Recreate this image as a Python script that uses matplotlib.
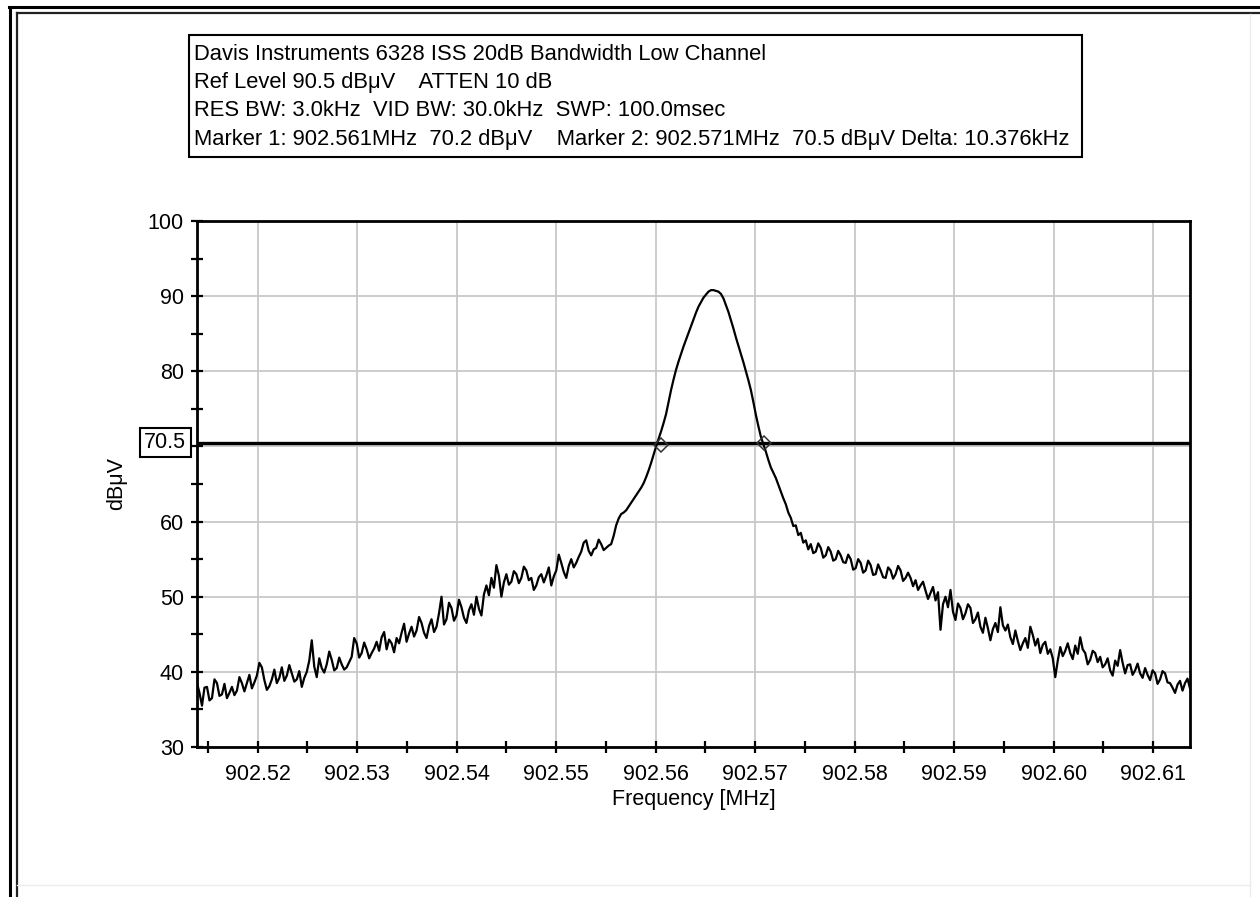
import numpy as np
import matplotlib.pyplot as plt
from matplotlib.lines import Line2D
from matplotlib.patches import Rectangle
from matplotlib.ticker import MultipleLocator, FuncFormatter

plt.rcParams['font.family'] = ['Liberation Sans', 'DejaVu Sans']

# sweep span (MHz), points evenly spaced across it
f_start = 902.5139
f_stop = 902.6137

level = [
    38.5, 37.2, 35.5, 37.9, 38.0, 36.2, 36.5, 39.0, 38.5, 36.8,
    37.0, 38.4, 36.5, 37.2, 38.0, 36.9, 37.5, 39.3, 38.5, 37.4,
    38.5, 39.6, 37.8, 38.6, 39.5, 41.2, 40.6, 38.9, 37.6, 38.1,
    39.0, 40.3, 38.5, 39.2, 40.6, 38.8, 39.5, 40.9, 39.8, 38.7,
    39.0, 40.1, 38.0, 39.2, 40.0, 41.5, 44.2, 40.7, 39.3, 41.8,
    40.5, 39.9, 41.0, 42.7, 41.6, 40.2, 40.5, 41.9, 41.0, 40.3,
    40.6, 41.3, 42.0, 44.5, 43.8, 41.9, 42.5, 43.9, 43.0, 41.8,
    42.5, 43.1, 44.0, 42.8, 44.6, 45.3, 43.0, 44.3, 43.8, 42.6,
    44.5, 43.8, 45.2, 46.4, 44.0, 45.1, 46.0, 44.7, 45.5, 47.3,
    46.5, 45.2, 44.5, 46.1, 47.0, 45.3, 46.0, 47.8, 50.0, 46.3,
    47.0, 49.2, 48.5, 46.8, 47.5, 49.6, 48.6, 47.2, 46.5, 48.2,
    49.0, 47.6, 50.0, 48.4, 47.5, 50.3, 51.5, 50.2, 52.5, 51.2,
    54.2, 52.8, 50.0, 51.9, 53.0, 51.6, 52.0, 53.4, 53.0, 51.8,
    52.5, 54.0, 53.5, 52.2, 52.5, 50.9, 51.5, 52.6, 53.0, 51.9,
    52.8, 53.9, 51.5, 52.7, 53.5, 55.6, 54.5, 53.3, 52.5, 54.1,
    55.0, 53.9, 54.5, 55.3, 56.0, 57.2, 57.5, 56.1, 55.5, 56.3,
    56.5, 57.6, 57.0, 56.2, 56.5, 56.8, 57.0, 58.1, 59.5, 60.4,
    61.0, 61.2, 61.5, 62.0, 62.5, 63.0, 63.5, 64.0, 64.5, 65.1,
    65.9, 66.8, 67.8, 68.9, 70.0, 71.0, 72.0, 73.1, 74.3, 75.9,
    77.5, 78.9, 80.2, 81.3, 82.3, 83.3, 84.2, 85.1, 86.0, 86.9,
    87.8, 88.6, 89.2, 89.8, 90.2, 90.6, 90.8, 90.8, 90.7, 90.6,
    90.3, 89.7, 88.8, 87.9, 86.8, 85.7, 84.5, 83.4, 82.3, 81.2,
    80.0, 78.8, 77.5, 75.9, 74.2, 72.7, 71.3, 70.3, 69.3, 68.2,
    67.2, 66.5, 65.8, 64.9, 64.0, 63.1, 62.3, 61.2, 60.5, 59.4,
    59.5, 58.2, 58.5, 57.2, 57.5, 56.3, 57.0, 55.8, 56.0, 57.1,
    56.5, 55.2, 55.5, 56.6, 56.0, 54.8, 55.0, 56.1, 55.5, 54.6,
    54.5, 55.6, 55.0, 53.6, 53.8, 55.0, 54.5, 53.2, 53.5, 54.8,
    54.2, 52.9, 53.0, 54.3, 53.5, 52.6, 52.5, 53.9, 53.5, 52.4,
    53.0, 54.1, 53.5, 52.1, 52.5, 53.2, 52.5, 51.4, 52.2, 50.9,
    51.5, 52.0, 50.8, 49.7, 50.5, 51.3, 49.5, 50.6, 45.6, 49.0,
    50.0, 48.6, 50.9, 48.0, 46.9, 49.1, 48.5, 47.0, 47.8, 49.0,
    48.5, 46.5, 47.0, 47.9, 46.0, 45.2, 47.2, 45.8, 44.2, 45.7,
    46.5, 45.3, 48.6, 46.2, 45.5, 46.3, 44.6, 43.7, 45.5, 44.1,
    42.9, 43.8, 44.5, 43.2, 46.0, 44.9, 43.5, 44.4, 42.5, 43.6,
    44.0, 42.4, 43.0, 41.8, 39.3, 41.5, 43.3, 42.1, 42.8, 43.8,
    42.5, 41.7, 43.5, 42.4, 44.6, 43.0, 42.5, 41.0, 41.6, 42.8,
    42.5, 41.3, 42.0, 40.6, 41.0, 41.8, 40.2, 39.5, 41.5, 40.8,
    42.9, 41.2, 39.8, 40.9, 41.0, 39.6, 40.2, 41.1, 39.8, 39.2,
    40.5, 39.6, 38.9, 40.2, 39.8, 38.4, 39.0, 40.1, 39.8, 38.6,
    38.5, 37.9, 37.2, 38.3, 38.8, 37.5, 38.5, 39.1, 37.8,
]
freq = np.linspace(f_start, f_stop, len(level))

ref_line = 70.5
marker_freq = [902.5605, 902.5709]
marker_level = [70.2, 70.5]

title_lines = [
    "Davis Instruments 6328 ISS 20dB Bandwidth Low Channel",
    "Ref Level 90.5 dB\u03bcV    ATTEN 10 dB",
    "RES BW: 3.0kHz  VID BW: 30.0kHz  SWP: 100.0msec",
    "Marker 1: 902.561MHz  70.2 dB\u03bcV    Marker 2: 902.571MHz  70.5 dB\u03bcV Delta: 10.376kHz",
]

fig = plt.figure(figsize=(12.6, 8.97), dpi=100)
W, H = 1260.0, 897.0

def fx(px):
    return px / W

def fy(py):
    return 1 - py / H

# frame lines of the screen capture (top / left only)
fig.add_artist(Line2D([fx(9), 1], [fy(7), fy(7)], color='black', lw=2.2))
fig.add_artist(Line2D([fx(10), fx(10)], [fy(7), 0], color='black', lw=2.2))
fig.add_artist(Line2D([fx(17), 1], [fy(13), fy(13)], color='#222222', lw=1.6))
fig.add_artist(Line2D([fx(17), fx(17)], [fy(13), 0], color='#222222', lw=1.6))
fig.add_artist(Line2D([fx(1250), fx(1250)], [fy(14), 0], color='#ececec', lw=1))
fig.add_artist(Line2D([fx(17), fx(1250)], [fy(885), fy(885)], color='#ececec', lw=1))

# header box
fig.add_artist(Rectangle((fx(189), fy(157)), fx(1082) - fx(189), fy(35) - fy(157),
                         transform=fig.transFigure, fill=False, ec='black', lw=1.5))
for i, line in enumerate(title_lines):
    fig.text(fx(194), fy(54 + i * 28.5), line, fontsize=15.8, va='center', ha='left')

ax = fig.add_axes([fx(197), fy(747), fx(1190) - fx(197), fy(221) - fy(747)])

ax.plot(freq, level, color='black', lw=1.6)
ax.axhline(ref_line, color='black', lw=2.4)
ax.plot(marker_freq, marker_level, ls='none', marker='D', ms=7.5, mfc='none',
        mec='#333333', mew=1.1)

ax.set_xlim(f_start, f_stop)
ax.set_ylim(30, 100)
ax.xaxis.set_major_locator(MultipleLocator(0.01))
ax.xaxis.set_minor_locator(MultipleLocator(0.005))
ax.yaxis.set_major_locator(MultipleLocator(10))
ax.yaxis.set_minor_locator(MultipleLocator(5))
ax.xaxis.set_major_formatter(plt.FormatStrFormatter('%.2f'))
# the 70 label sits under the reference-level box
ax.yaxis.set_major_formatter(FuncFormatter(lambda v, p: '' if round(v) == 70 else '%d' % round(v)))

ax.tick_params(which='both', direction='inout', length=9, width=1.6, color='black')
ax.tick_params(axis='x', which='major', labelsize=15.5, pad=8)
ax.tick_params(axis='y', which='major', labelsize=15.5, pad=5)
ax.grid(True, which='major', color='#c8c8c8', lw=1.3)
ax.set_axisbelow(True)
for s in ax.spines.values():
    s.set_linewidth(2)

ax.set_xlabel('Frequency [MHz]', fontsize=15.5)
ax.set_ylabel('dB\u03bcV', fontsize=15.5)
ax.xaxis.set_label_coords(0.5, -0.08)
ax.yaxis.set_label_coords(-0.07, 0.5)

ax.text(-0.032, ref_line, '70.5', transform=ax.get_yaxis_transform(), fontsize=15.5,
        ha='center', va='center',
        bbox=dict(boxstyle='square,pad=0.2', fc='white', ec='black', lw=1.5))

fig.savefig('out.png', dpi=100)
